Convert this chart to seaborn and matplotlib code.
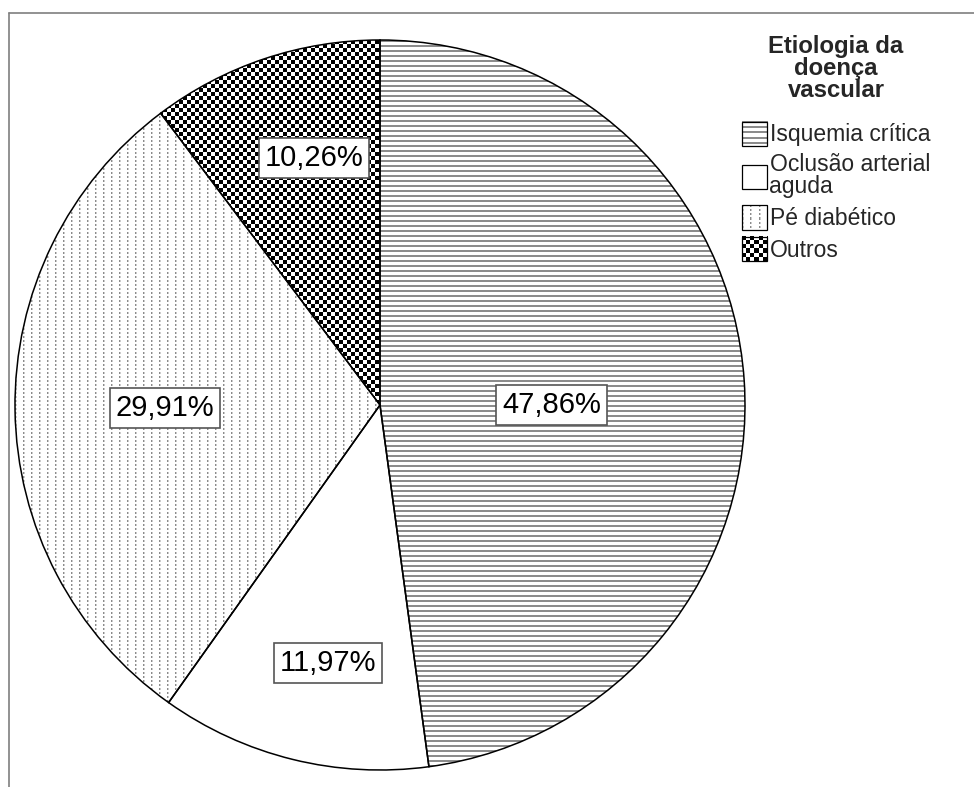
# pie chart: Etiologia da doença vascular (SPSS-style pattern fills)

import numpy as np
import pandas as pd
import matplotlib.pyplot as plt
import seaborn as sns
from matplotlib.legend_handler import HandlerBase
from matplotlib.image import BboxImage
from matplotlib.transforms import Bbox, TransformedBbox
from matplotlib.patches import Rectangle
from matplotlib.lines import Line2D

# data
categories = ['Isquemia crítica', 'Oclusão arterial\naguda', 'Pé diabético', 'Outros']
percentages = [47.86, 11.97, 29.91, 10.26]
legend_title = 'Etiologia da\ndoença\nvascular'

df = pd.DataFrame({'etiologia': categories, 'pct': percentages})

# style
patterns = ['hlines', None, 'dots', 'checker']
label_radius = [0.47, 0.72, 0.59, 0.70]
label_turn = [-3.9, 2.5, 0.0, -3.5]   # small angular nudges (degrees) like the SPSS placement

sns.set_style('white')
plt.rcParams['font.family'] = ['Liberation Sans', 'DejaVu Sans']


def make_texture(kind, h, w):
    # greyscale pixel textures that mimic the SPSS fill patterns
    yy, xx = np.mgrid[0:h, 0:w]
    img = np.ones((h, w))
    if kind == 'hlines':
        img[(yy % 5) < 2] = 0.55
    elif kind == 'dots':
        on = (yy % 4) < 2
        img[on & (xx % 8 == 0)] = 0.55
        img[on & (xx % 8 == 1)] = 0.8
    elif kind == 'checker':
        img = ((xx // 4 + yy // 4) % 2).astype(float)
    return img


class TextureHandler(HandlerBase):
    def __init__(self, kind):
        super().__init__()
        self.kind = kind

    def create_artists(self, legend, orig_handle, xdescent, ydescent,
                       width, height, fontsize, trans):
        arts = []
        if self.kind:
            bb = TransformedBbox(Bbox.from_bounds(-xdescent, -ydescent, width, height), trans)
            img = BboxImage(bb, cmap='gray', norm=plt.Normalize(0, 1), interpolation='nearest')
            img.set_data(make_texture(self.kind, int(round(height * 100 / 72)), int(round(width * 100 / 72))))
            arts.append(img)
        rect = Rectangle((-xdescent, -ydescent), width, height,
                         facecolor='none' if self.kind else 'white',
                         edgecolor='black', linewidth=0.9, transform=trans)
        arts.append(rect)
        return arts


fig = plt.figure(figsize=(9.74, 7.87), dpi=100)
ax = fig.add_axes([15 / 974, 17 / 787, 730 / 974, 730 / 787])

wedges, texts, autotexts = ax.pie(
    df['pct'], startangle=90, counterclock=False,
    colors=['white'] * len(df),
    autopct=lambda p: f'{p:.2f}%'.replace('.', ','),
    pctdistance=0.6,
    wedgeprops=dict(edgecolor='black', linewidth=1.1),
    textprops=dict(fontsize=21, color='black'))

ax.set_xlim(-1, 1)
ax.set_ylim(-1, 1)
ax.set_aspect('equal')
ax.axis('off')

npx = int(round(ax.bbox.width))
for w, kind in zip(wedges, patterns):
    w.set_facecolor('none')
    w.set_zorder(3)
    w.set_clip_on(False)
    if kind is None:
        continue
    im = ax.imshow(make_texture(kind, npx, npx), cmap='gray', vmin=0, vmax=1,
                   extent=(-1, 1, -1, 1), interpolation='nearest', zorder=2)
    im.set_clip_path(w)

ax.set_xlim(-1, 1)
ax.set_ylim(-1, 1)

# percentage labels in white boxes
for t, w, r, d in zip(autotexts, wedges, label_radius, label_turn):
    mid = np.deg2rad((w.theta1 + w.theta2) / 2 + d)
    t.set_position((r * np.cos(mid), r * np.sin(mid)))
    t.set_zorder(5)
    t.set_bbox(dict(boxstyle='square,pad=0.2', facecolor='white',
                    edgecolor='#555555', linewidth=1.2))

# legend
hmap = {w: TextureHandler(k) for w, k in zip(wedges, patterns)}
leg = fig.legend(wedges, df['etiologia'], title=legend_title,
                 loc='upper left', bbox_to_anchor=(742 / 974, 1 - 35 / 787),
                 frameon=False, fontsize=16.5,
                 title_fontproperties={'weight': 'bold', 'size': 17.2},
                 handlelength=1.1, handleheight=1.25, handletextpad=0.1,
                 labelspacing=0.3, borderpad=0, borderaxespad=0,
                 handler_map=hmap)
for t in leg.get_texts():
    t.set_linespacing(0.95)
leg.get_title().set_multialignment('center')
leg.get_title().set_linespacing(0.95)
leg._legend_box.sep = 14.0   # gap between title and entries

# output border (top and left edges)
fig.add_artist(Line2D([8.5 / 974, 1], [1 - 12.5 / 787] * 2, color='#7f7f7f', lw=1.2))
fig.add_artist(Line2D([8.5 / 974] * 2, [1 - 12.5 / 787, 0], color='#7f7f7f', lw=1.2))

plt.savefig('out.png', dpi=100)
